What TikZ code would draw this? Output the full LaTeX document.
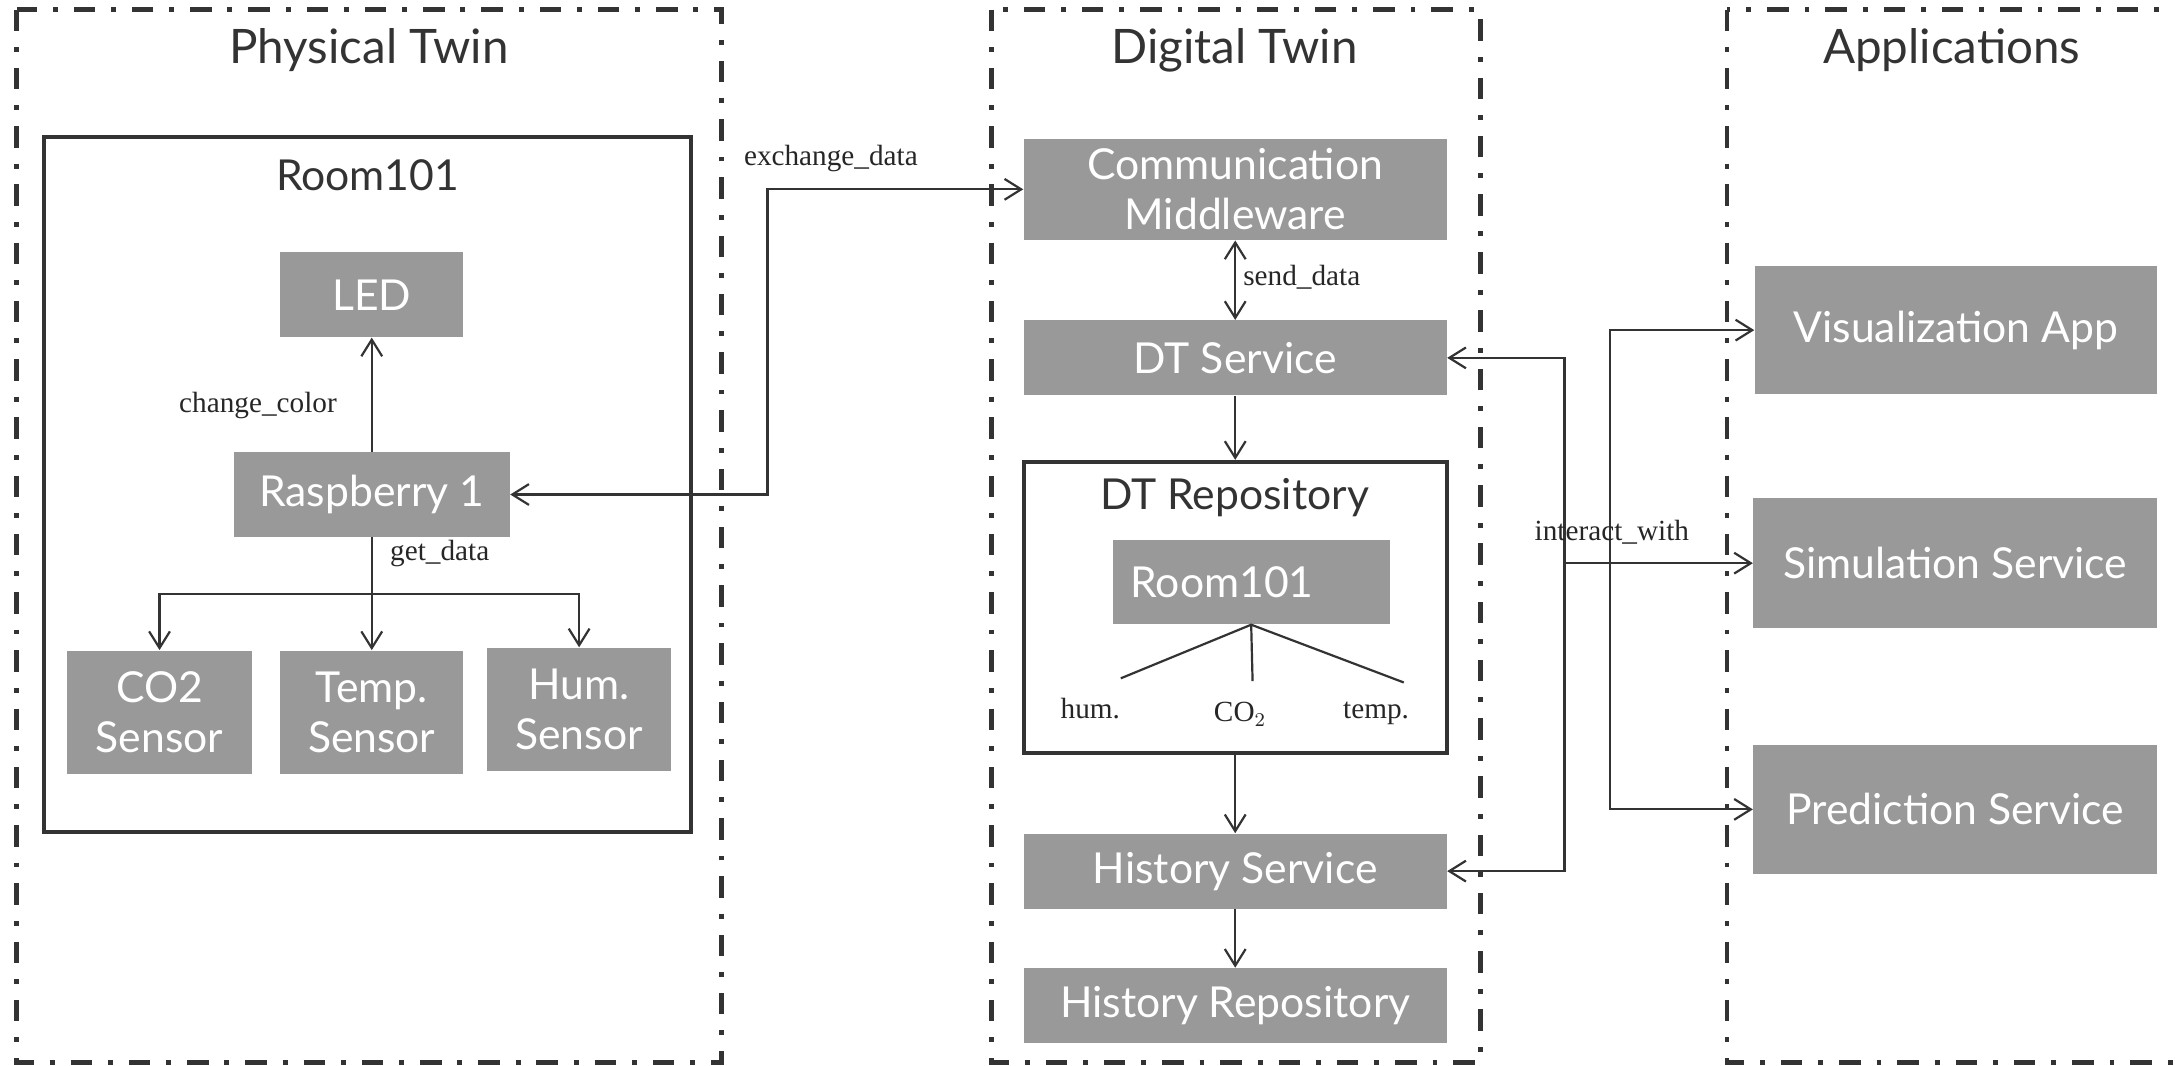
\documentclass[tikz,border=0pt]{standalone}
\usepackage{fontspec}
\setmainfont{Liberation Serif}
\newfontfamily\boxfont{Lato}
\usetikzlibrary{arrows.meta,calc}
\definecolor{boxgray}{HTML}{999999}
\definecolor{linegray}{HTML}{333333}
\begin{document}
\begin{tikzpicture}[x=0.02cm,y=-0.02cm,
  frame/.style={draw=linegray, line width=2pt, dash pattern=on 0.31cm off 0.23cm on 0.07cm off 0.23cm},
  groupbox/.style={draw=linegray, line width=1.7pt, inner sep=0pt},
  gbox/.style={fill=boxgray, text=white, inner sep=0pt, align=center, font=\boxfont\fontsize{17.5}{20.5}\selectfont},
  ttl/.style={text=linegray, inner sep=0pt, font=\boxfont\fontsize{19.5}{22}\selectfont},
  subttl/.style={text=linegray, inner sep=0pt, font=\boxfont\fontsize{17.5}{21}\selectfont},
  lbl/.style={text=black!85, inner sep=0pt, font=\fontsize{12}{14}\selectfont},
  conn/.style={draw=linegray, line width=0.9pt},
  arr/.style={conn, -{Straight Barb[length=0.24cm,width=0.3cm]}},
  darr/.style={conn, {Straight Barb[length=0.24cm,width=0.3cm]}-{Straight Barb[length=0.24cm,width=0.3cm]}}
]
\useasboundingbox (0,0) rectangle (1568,768);
\clip (0,0) rectangle (1568,768);

% outer groups
\draw[frame] (12,7) rectangle (520,766);
\draw[frame] (715,7) rectangle (1067,766);
\draw[frame] (1245,7) rectangle (1600,766);
\node[ttl] (tpt) at (266,36) {Physical Twin};
\node[ttl] (tdt) at (890,36) {Digital Twin};
\node[ttl] (tap) at (1407,36) {Applications};

% Physical twin
\draw[groupbox] (32,99) rectangle (498,600);
\node[subttl] (troom) at (265,126) {Room101};
\node[gbox, minimum width=2.64cm, minimum height=1.22cm] (led) at (268,212.5) {LED};
\node[gbox, minimum width=3.98cm, minimum height=1.22cm] (rpi) at (268,356.5) {Raspberry 1};
\node[gbox, minimum width=2.68cm, minimum height=1.78cm] (co2) at (115,513.5) {CO2\\Sensor};
\node[gbox, minimum width=2.64cm, minimum height=1.78cm] (temp) at (268,513.5) {Temp.\\Sensor};
\node[gbox, minimum width=2.66cm, minimum height=1.78cm] (hum) at (417.5,511.5) {Hum.\\Sensor};

\draw[arr] (rpi.north) -- (led.south);
\node[lbl] (lcc) at (186,292) {change\_color};
\coordinate (split) at (268,428);
\draw[arr] (rpi.south) -- (temp.north);
\draw[arr] (split) -| (co2.north);
\draw[arr] (split) -| (hum.north);
\node[lbl] (lgd) at (317,399) {get\_data};

% Digital twin
\node[gbox, minimum width=6.1cm, minimum height=1.46cm] (cm) at (890.5,136.5) {Communication\\Middleware};
\node[gbox, minimum width=6.1cm, minimum height=1.08cm] (dts) at (890.5,258) {DT Service};
\node[groupbox, minimum width=6.1cm, minimum height=4.2cm] (repo) at (890.5,438) {};
\node[subttl] (trepo) at (890,359) {DT Repository};
\node[gbox, minimum width=4.0cm, minimum height=1.22cm] (room2) at (902,419.5) {Room101\hspace{0.84cm}};
\node[gbox, minimum width=6.1cm, minimum height=1.08cm] (hs) at (890.5,628) {History Service};
\node[gbox, minimum width=6.1cm, minimum height=1.08cm] (hr) at (890.5,725) {History Repository};

\coordinate (t1) at (808,489);
\coordinate (t2) at (903,491);
\coordinate (t3) at (1012,492);
\draw[conn] (t1) -- (room2.south) -- (t3);
\draw[conn] (room2.south) -- (t2);
\node[lbl] (lhum) at (786,511) {hum.};
\node[lbl] (lco2) at (894,515) {CO$_2$};
\node[lbl] (ltemp) at (992,514) {temp.};

\draw[darr] (rpi.east) -- ++(185.5,0) |- (cm.west);
\node[lbl] (lex) at (599,114) {exchange\_data};
\draw[darr] (cm.south) -- (dts.north);
\node[lbl, anchor=west] (lsd) at (896,200) {send\_data};
\draw[arr] (dts.south) -- (repo.north);
\draw[arr] (repo.south) -- (hs.north);
\draw[arr] (hs.south) -- (hr.north);

% Applications
\node[gbox, minimum width=5.8cm, minimum height=1.84cm] (vis) at (1410,238) {Visualization App};
\node[gbox, minimum width=5.82cm, minimum height=1.88cm] (sim) at (1409.5,406) {Simulation Service};
\node[gbox, minimum width=5.82cm, minimum height=1.86cm] (pred) at (1409.5,583.5) {Prediction Service};

\draw[darr] (dts.east) -- ++(84.5,0) |- (hs.east);
\coordinate (busA) at (1128,406);
\draw[arr] (busA) -- (sim.west);
\draw[darr] (vis.west) -- ++(-104,0) |- (pred.west);
\node[lbl] (liw) at (1162,384) {interact\_with};
\end{tikzpicture}
\end{document}
